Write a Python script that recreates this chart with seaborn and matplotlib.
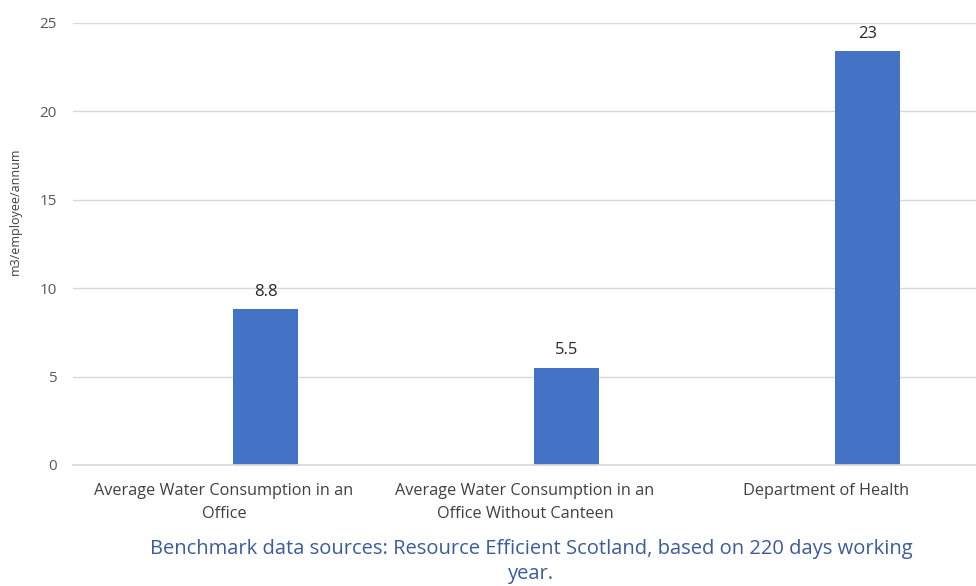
import matplotlib
matplotlib.use("Agg")
import matplotlib.pyplot as plt
import pandas as pd
import seaborn as sns

categories = [
    "Average Water Consumption in an\nOffice",
    "Average Water Consumption in an\nOffice Without Canteen",
    "Department of Health",
]
values = [8.8, 5.5, 23.4]
value_labels = ["8.8", "5.5", "23"]
y_ticks = [0, 5, 10, 15, 20, 25]
y_label = "m3/employee/annum"
footer = "Benchmark data sources: Resource Efficient Scotland, based on 220 days working\nyear."

sns.set_theme(style="white")
plt.rcParams["font.family"] = ["Open Sans", "DejaVu Sans"]

df = pd.DataFrame({"category": categories, "value": values})

fig = plt.figure(figsize=(9.76, 5.86), dpi=100)
ax = fig.add_axes([0.0753, 0.2065, 0.9252, 0.7543])

sns.barplot(data=df, x="category", y="value", color="#4472C4", width=0.216,
            saturation=1, ax=ax)

# bars sit right of the category centre (empty second series in the original)
for patch in ax.patches:
    patch.set_x(patch.get_x() + 0.138)
    patch.set_edgecolor("none")

for patch, lab in zip(ax.patches, value_labels):
    ax.annotate(lab, (patch.get_x() + patch.get_width() / 2, patch.get_height()),
                xytext=(0, 7), textcoords="offset points", ha="center", va="bottom",
                fontsize=12, color="#262626")

ax.set_xlim(-0.5, 2.5)
ax.set_ylim(0, 25)
ax.set_yticks(y_ticks)
ax.yaxis.grid(True, color="#D9D9D9", linewidth=1)
ax.set_axisbelow(True)
for s in ["top", "right", "left"]:
    ax.spines[s].set_visible(False)
ax.spines["bottom"].set_color("#D9D9D9")
ax.tick_params(axis="y", length=0, labelsize=11, labelcolor="#595959", pad=12)
ax.tick_params(axis="x", length=0, labelsize=11.7, labelcolor="#404040", pad=13)
for t in ax.get_xticklabels():
    t.set_linespacing(1.55)
ax.set_xlabel("")
ax.set_ylabel("")
fig.text(0.0155, 0.64, y_label, rotation=90, ha="center", va="center",
         fontsize=9, color="#404040")

fig.text(0.544, 0.042, footer, ha="center", va="center", fontsize=14.5,
         color="#3A5C9E", linespacing=1.3)

fig.savefig("out.png", dpi=100, facecolor="white")
